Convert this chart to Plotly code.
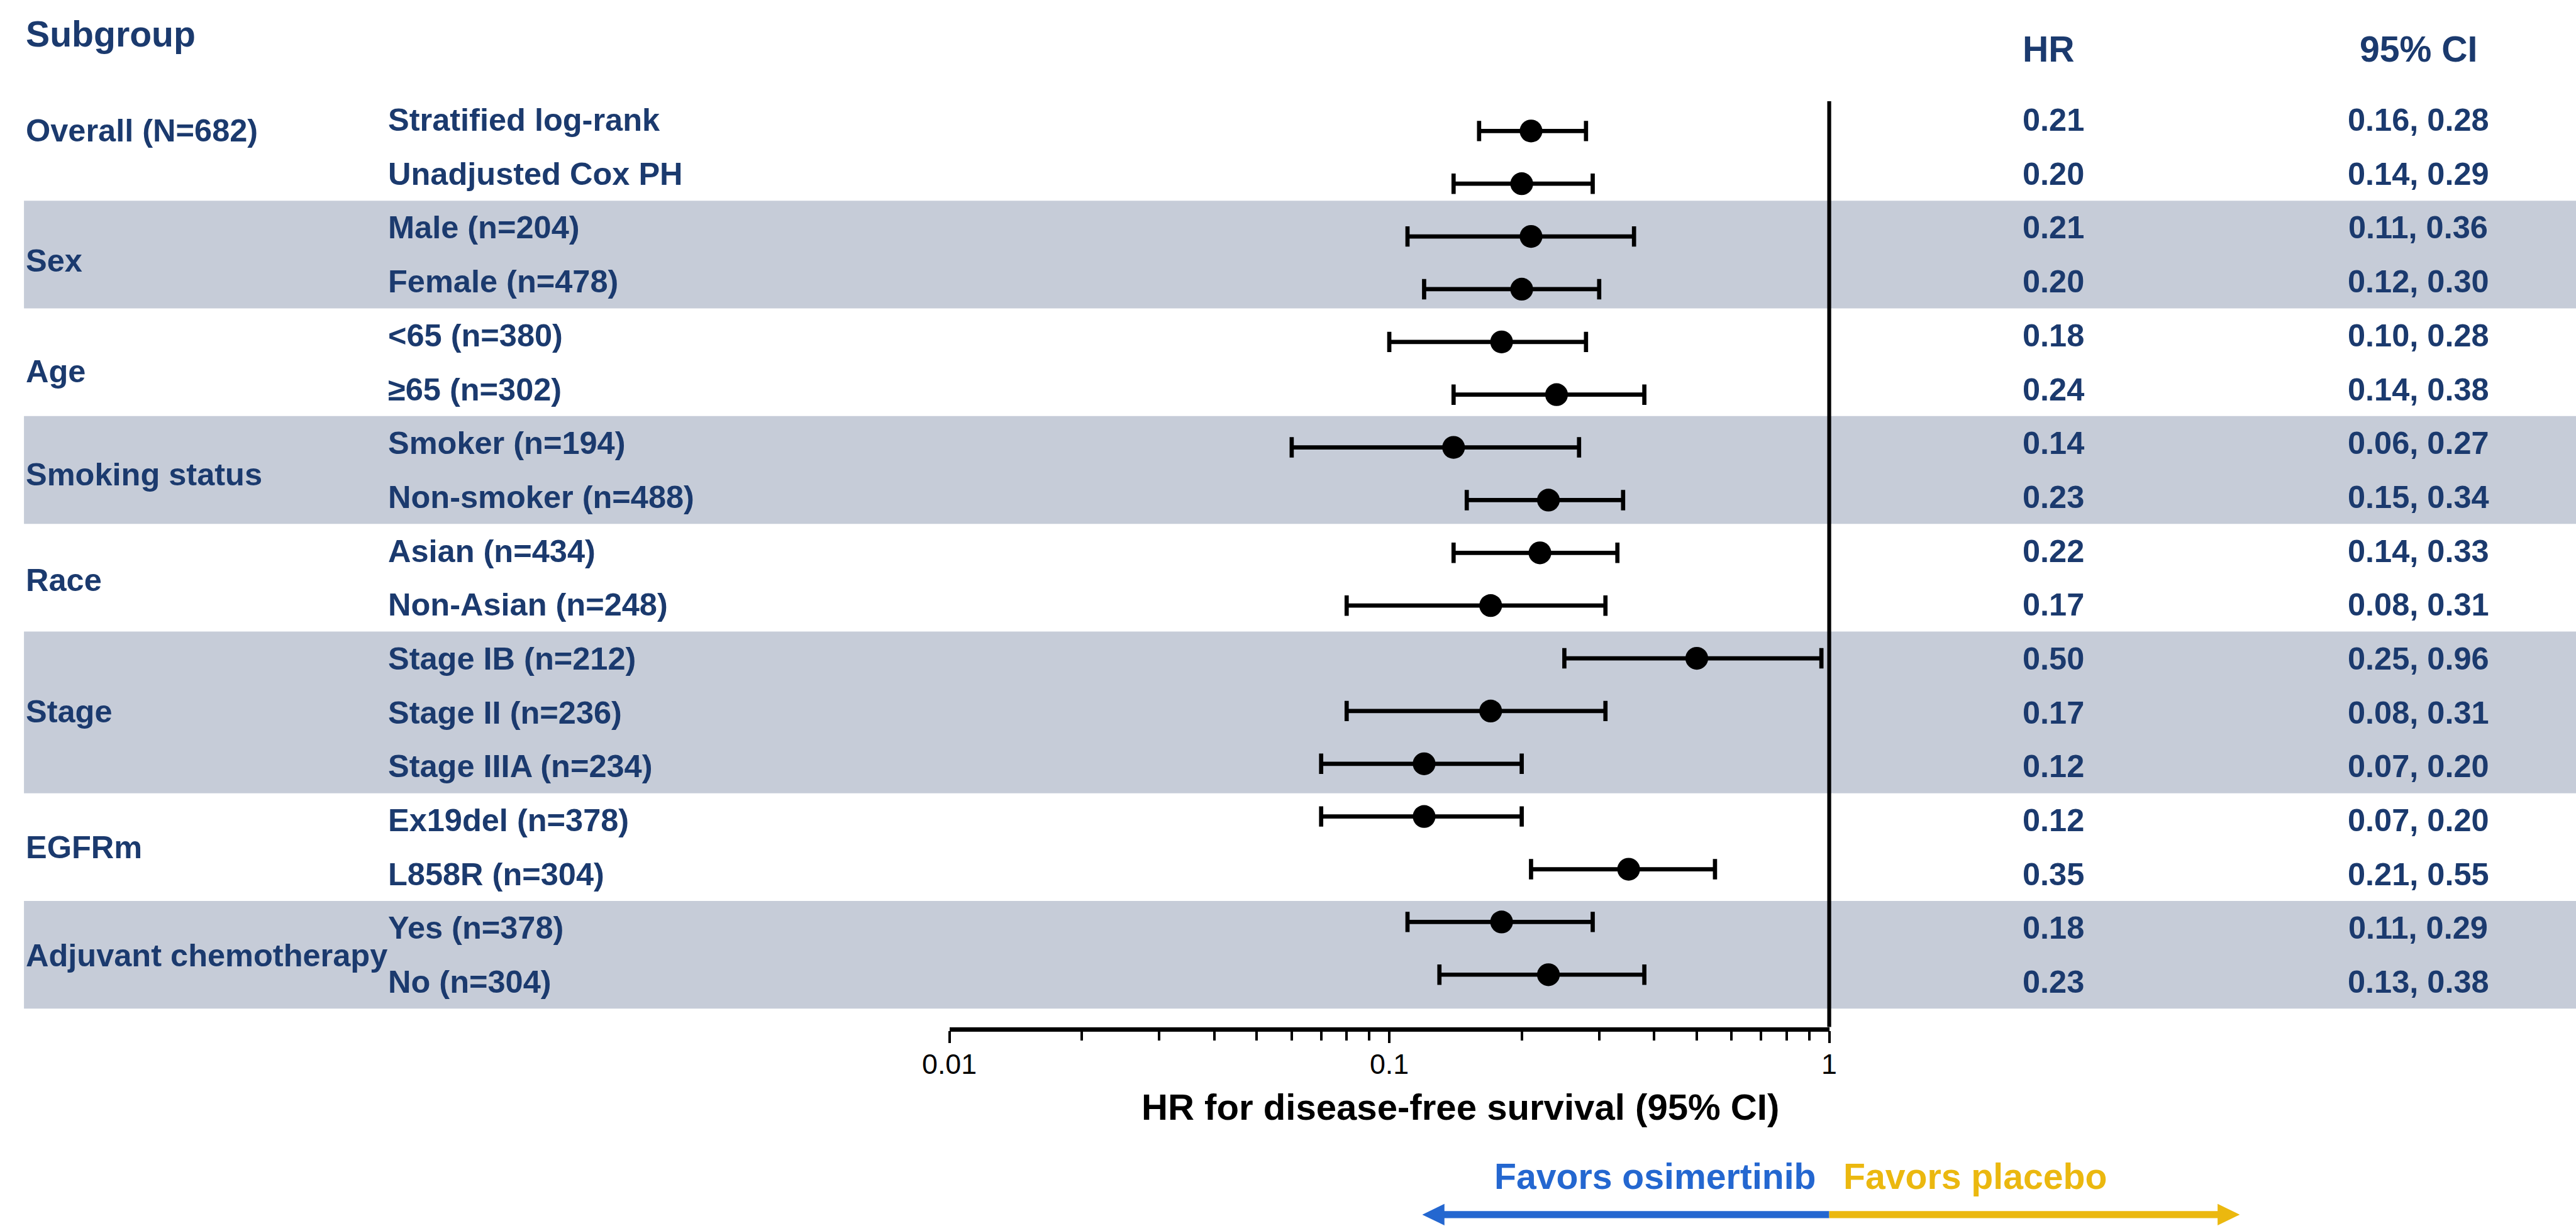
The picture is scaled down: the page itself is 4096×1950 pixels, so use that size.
import plotly.graph_objects as go

# ---------------- data ----------------
groups = ["Overall (N=682)", "Sex", "Age", "Smoking status", "Race", "Stage",
          "EGFRm", "Adjuvant chemotherapy"]
group_sizes = [2, 2, 2, 2, 2, 3, 2, 2]
shaded_groups = [False, True, False, True, False, True, False, True]
subgroups = ["Stratified log-rank", "Unadjusted Cox PH", "Male (n=204)", "Female (n=478)",
             "<65 (n=380)", "\u226565 (n=302)", "Smoker (n=194)", "Non-smoker (n=488)",
             "Asian (n=434)", "Non-Asian (n=248)", "Stage IB (n=212)", "Stage II (n=236)",
             "Stage IIIA (n=234)", "Ex19del (n=378)", "L858R (n=304)", "Yes (n=378)",
             "No (n=304)"]
hr = [0.21, 0.20, 0.21, 0.20, 0.18, 0.24, 0.14, 0.23, 0.22, 0.17, 0.50, 0.17, 0.12,
      0.12, 0.35, 0.18, 0.23]
ci_lo = [0.16, 0.14, 0.11, 0.12, 0.10, 0.14, 0.06, 0.15, 0.14, 0.08, 0.25, 0.08, 0.07,
         0.07, 0.21, 0.11, 0.13]
ci_hi = [0.28, 0.29, 0.36, 0.30, 0.28, 0.38, 0.27, 0.34, 0.33, 0.31, 0.96, 0.31, 0.20,
         0.20, 0.55, 0.29, 0.38]
x_tick_vals = [0.01, 0.1, 1]
x_tick_text = ["0.01", "0.1", "1"]
x_minor_vals = [0.02, 0.03, 0.04, 0.05, 0.06, 0.07, 0.08, 0.09,
                0.2, 0.3, 0.4, 0.5, 0.6, 0.7, 0.8, 0.9]

# ---------------- layout geometry (reference pixels) ----------------
W, H = 4096, 1950
REF_W, REF_H = 4298, 2046
S = W / REF_W
AX_L, AX_R, AX_Y = 1584, 3052, 1714
ROW0, ROW_STEP = 218.6, 88.0
TXT0, TXT_STEP = 200.0, 89.9
GROUP_Y = [218, 435, 620, 792, 968, 1187, 1414, 1594]
BAND_X0 = 40
GROUP_X, SUB_X, HR_X, CI_X = 41, 645, 3372, 4035
HEAD_Y_SUB, HEAD_Y_COL = 57, 82

NAVY = "#1B3A6E"
BAND = "#C6CCD8"
BLUE = "#2467D0"
YELLOW = "#EBB80F"
FONT = "Liberation Sans, Arial, Helvetica, sans-serif"


def px(x):
    return x / REF_W


def py(y):
    return 1 - y / REF_H


n = len(subgroups)
rows = list(range(n))

fig = go.Figure()
fig.add_trace(go.Scatter(
    x=hr, y=rows, mode="markers",
    marker=dict(color="black", size=38 * S, symbol="circle"),
    error_x=dict(type="data", symmetric=False,
                 array=[h - v for v, h in zip(hr, ci_hi)],
                 arrayminus=[v - l for v, l in zip(hr, ci_lo)],
                 color="black", thickness=7 * S, width=17 * S),
    cliponaxis=False, showlegend=False, hoverinfo="skip"))

shapes = []
# shaded bands
start = 0
for gi, size in enumerate(group_sizes):
    if shaded_groups[gi]:
        top = TXT0 + TXT_STEP * (start - 0.5)
        bot = TXT0 + TXT_STEP * (start + size - 0.5)
        shapes.append(dict(type="rect", xref="paper", yref="paper",
                           x0=px(BAND_X0), x1=px(REF_W + 20), y0=py(bot), y1=py(top),
                           fillcolor=BAND, line=dict(width=0), layer="below"))
    start += size

# reference line at HR = 1
shapes.append(dict(type="line", xref="paper", yref="paper", x0=px(AX_R), x1=px(AX_R),
                   y0=py(AX_Y), y1=py(169), line=dict(color="black", width=6.5 * S)))

# direction arrows
ARR_Y, ARR_T = 2027, 12
shapes.append(dict(type="rect", xref="paper", yref="paper",
                   x0=px(2400), x1=px(AX_R), y0=py(ARR_Y + ARR_T / 2), y1=py(ARR_Y - ARR_T / 2),
                   fillcolor=BLUE, line=dict(width=0)))
shapes.append(dict(type="rect", xref="paper", yref="paper",
                   x0=px(AX_R), x1=px(3710), y0=py(ARR_Y + ARR_T / 2), y1=py(ARR_Y - ARR_T / 2),
                   fillcolor=YELLOW, line=dict(width=0)))
shapes.append(dict(type="path", xref="paper", yref="paper",
                   path=f"M {px(2373)},{py(ARR_Y)} L {px(2410)},{py(ARR_Y - 18)} "
                        f"L {px(2410)},{py(ARR_Y + 18)} Z",
                   fillcolor=BLUE, line=dict(width=0)))
shapes.append(dict(type="path", xref="paper", yref="paper",
                   path=f"M {px(3737)},{py(ARR_Y)} L {px(3700)},{py(ARR_Y - 18)} "
                        f"L {px(3700)},{py(ARR_Y + 18)} Z",
                   fillcolor=YELLOW, line=dict(width=0)))

ann = []


def text(x, y, s, size, color=NAVY, xanchor="left", bold=True):
    ann.append(dict(x=px(x), y=py(y), xref="paper", yref="paper", text=s,
                    showarrow=False, xanchor=xanchor, yanchor="middle",
                    font=dict(family=FONT, size=size * S, color=color,
                              weight="bold" if bold else "normal")))


ROW_FS, HEAD_FS = 53, 60
text(GROUP_X, HEAD_Y_SUB, "Subgroup", HEAD_FS)
text(HR_X, HEAD_Y_COL, "HR", HEAD_FS)
text(CI_X, HEAD_Y_COL, "95% CI", HEAD_FS, xanchor="center")

for g, gy in zip(groups, GROUP_Y):
    text(GROUP_X, gy, g, ROW_FS)

for i in rows:
    ty = TXT0 + TXT_STEP * i
    text(SUB_X, ty, subgroups[i].replace("<", "&lt;"), ROW_FS)
    text(HR_X, ty, f"{hr[i]:.2f}", ROW_FS)
    text(CI_X, ty, f"{ci_lo[i]:.2f}, {ci_hi[i]:.2f}", ROW_FS, xanchor="center")

text(2436, 1847, "HR for disease-free survival (95% CI)", 61, color="black", xanchor="center")
text(3033, 1963, "Favors osimertinib", 60, color=BLUE, xanchor="right")
text(3073, 1963, "Favors placebo", 60, color=YELLOW, xanchor="left")

fig.update_layout(
    width=W, height=H, margin=dict(l=0, r=0, t=0, b=0, pad=0, autoexpand=False),
    paper_bgcolor="white", plot_bgcolor="rgba(0,0,0,0)",
    shapes=shapes, annotations=ann, showlegend=False,
    xaxis=dict(type="log", range=[-2, 0], domain=[AX_L / REF_W, AX_R / REF_W],
               showline=True, linecolor="black", linewidth=7 * S,
               ticks="outside", tickvals=x_tick_vals, ticktext=x_tick_text,
               ticklen=20 * S, tickwidth=4 * S, tickcolor="black",
               tickfont=dict(family=FONT, size=47 * S, color="black"),
               ticklabelstandoff=-5, automargin=False,
               minor=dict(tickvals=x_minor_vals, ticks="outside", ticklen=15 * S,
                          tickwidth=4 * S, tickcolor="black", showgrid=False),
               showgrid=False, zeroline=False, anchor="y", fixedrange=True),
    yaxis=dict(range=[(AX_Y - ROW0) / ROW_STEP, -ROW0 / ROW_STEP], automargin=False,
               domain=[(REF_H - AX_Y) / REF_H, 1], visible=False, fixedrange=True),
)

fig.write_html("out.html", config={"displayModeBar": False},
               post_script="document.body.style.margin='0';"
                           "document.body.style.overflow='hidden';")
